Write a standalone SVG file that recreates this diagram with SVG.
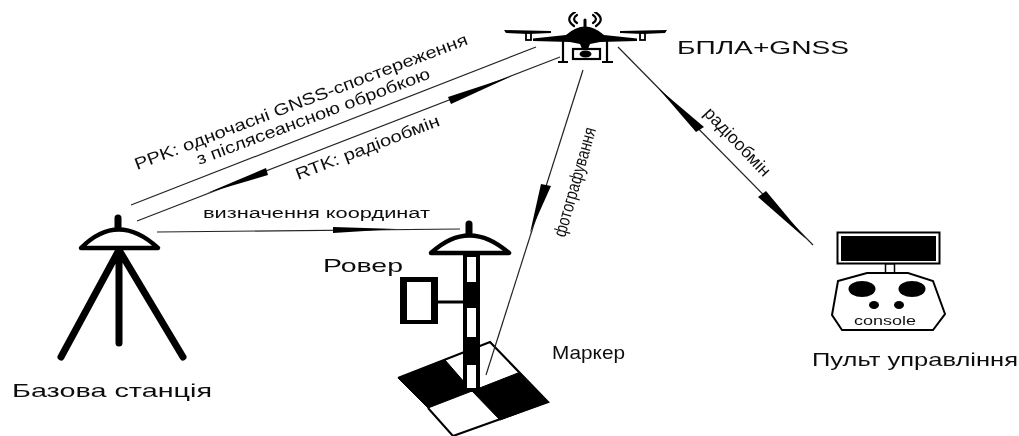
<svg xmlns="http://www.w3.org/2000/svg" width="1019" height="436" viewBox="0 0 1019 436">
<defs><filter id="soft" x="0" y="0" width="100%" height="100%"><feGaussianBlur stdDeviation="0.45"/></filter></defs>
<style>
text{font-family:"Liberation Sans",Arial,sans-serif;fill:#111}
.c{stroke:#222;stroke-width:1.2;fill:none}
.h{fill:#000;stroke:none}
.k{stroke:#000;fill:none;stroke-linecap:round}
.lab{font-size:18.500px}
.sm{font-size:16.500px}
</style>
<rect width="1019" height="436" fill="#fff"/>
<g filter="url(#soft)">
<g id="marker">
<path d="M398,378 L490,342 L548,402 L453,436" fill="#fff" stroke="#000" stroke-width="2.200"/>
<path d="M398,378 L445,360 L472,391 L428,408Z" fill="#000" stroke="#000"/>
<path d="M472,391 L518,373 L548,402 L500,420Z" fill="#000" stroke="#000"/>
<path d="M428,408 L453,436" stroke="#000" stroke-width="2" fill="none"/>
<text class="lab" x="552" y="359" textLength="73" lengthAdjust="spacingAndGlyphs">Маркер</text>
</g>
<g id="base-station">
<path class="k" d="M118,218V232" stroke-width="7"/>
<path d="M81,248 Q118,211 158,248Z" fill="#fff" stroke="#000" stroke-width="4.500" stroke-linejoin="round"/>
<path class="k" d="M119,250L61,357M119,250V343M119,250L183,357" stroke-width="7"/>
<text class="lab" x="12" y="397" textLength="200" lengthAdjust="spacingAndGlyphs">Базова станція</text>
</g>
<g id="rover">
<path class="k" d="M469,224V236" stroke-width="7"/>
<path d="M431,253 Q469,218 509,253Z" fill="#fff" stroke="#000" stroke-width="4.500" stroke-linejoin="round"/>
<rect x="465" y="255" width="13" height="135" fill="#fff" stroke="#000" stroke-width="4"/>
<rect x="464" y="282" width="15" height="26" fill="#000"/>
<rect x="464" y="337" width="15" height="28" fill="#000"/>
<path d="M437,302H464" stroke="#000" stroke-width="3"/>
<path d="M400,277H438V324H400ZM407,282V320H431V282Z" fill="#000" fill-rule="evenodd"/>
<rect x="407" y="282" width="24" height="38" fill="#fff"/>
<text class="lab" x="323" y="272" textLength="80" lengthAdjust="spacingAndGlyphs">Ровер</text>
</g>
<g id="uav">
<path d="M504,30 L551,31 V33 L528,34 L506,33Z" fill="#000"/>
<path d="M620,31 L667,30 L665,33 L643,34 L620,33Z" fill="#000"/>
<rect x="526" y="33" width="5" height="7" fill="#fff" stroke="#000" stroke-width="1.800"/>
<rect x="640" y="33" width="5" height="7" fill="#fff" stroke="#000" stroke-width="1.800"/>
<path d="M533,38.500 L566,35 Q585,18 604,35 L637,38.500 V41 L600,42 L590,44 L588,49 H582 L580,44 L570,42 L533,41Z" fill="#000"/>
<path class="k" d="M585,20V30" stroke-width="3"/>
<g class="k" stroke-width="2.200"><path d="M575,12 Q564,19 574,26M577,15 Q571,19 577,23M595,12 Q606,19 596,26M593,15 Q599,19 593,23"/></g>
<path d="M563,41V62M558,62H568M607,41V62M602,62H613" stroke="#000" stroke-width="2.200" fill="none"/>
<rect x="573" y="49" width="27" height="10" fill="#fff" stroke="#000" stroke-width="2.200"/>
<ellipse cx="585.500" cy="54" rx="6" ry="3.500" fill="#000"/>
<text class="lab" x="677" y="54" textLength="172" lengthAdjust="spacingAndGlyphs">БПЛА+GNSS</text>
</g>
<g id="console">
<rect x="837.500" y="232.500" width="102" height="31" fill="#fff" stroke="#000" stroke-width="2"/>
<rect x="841" y="236" width="95" height="25" fill="#000"/>
<rect x="885.500" y="264" width="9" height="9" fill="#fff" stroke="#000" stroke-width="1.500"/>
<path d="M838,281 L867,273 H908 L933,281 L945,314 L933,330 H842 L832,315Z" fill="#fff" stroke="#000" stroke-width="2"/>
<ellipse cx="862" cy="289" rx="13.500" ry="8" fill="#000"/>
<ellipse cx="912" cy="289" rx="13.500" ry="8" fill="#000"/>
<ellipse cx="874" cy="305" rx="5" ry="4" fill="#000"/>
<ellipse cx="899" cy="305" rx="5" ry="4" fill="#000"/>
<text x="854" y="325" font-size="13" textLength="62" lengthAdjust="spacingAndGlyphs">console</text>
<text class="lab" x="812" y="366" textLength="206" lengthAdjust="spacingAndGlyphs">Пульт управління</text>
</g>
<g id="connectors">
<path class="c" d="M131,205L536,47"/>
<path class="c" d="M137,221L560,57"/>
<path class="h" d="M207,193L266,168L268,175Z"/>
<path class="h" d="M512,76L448,97L451,104Z"/>
<path class="c" d="M157,232L460,229"/>
<path class="h" d="M333,227L397,229L333,233Z"/>
<path class="c" d="M583,70L486,375"/>
<path class="h" d="M541,184L551,186L530,233Z"/>
<path class="c" d="M618,47L813,245"/>
<path class="h" d="M658,88L704,127L696,132Z"/>
<path class="h" d="M766,191L758,197L806,239Z"/>
</g>
<g id="labels">
<text class="sm" transform="translate(137,170) rotate(-20.800)" textLength="355" lengthAdjust="spacingAndGlyphs">PPK: одночасні GNSS-спостереження</text>
<text class="sm" transform="translate(199,165) rotate(-20.500)" textLength="248" lengthAdjust="spacingAndGlyphs">з післясеансною обробкою</text>
<text class="sm" transform="translate(298,180) rotate(-21)" textLength="153" lengthAdjust="spacingAndGlyphs">RTK: радіообмін</text>
<text class="sm" x="203" y="218" style="font-size:15.500px" textLength="227" lengthAdjust="spacingAndGlyphs">визначення координат</text>
<text class="sm" transform="translate(565,238) rotate(-74)" style="font-size:18px" textLength="113" lengthAdjust="spacingAndGlyphs">фотографування</text>
<text class="sm" transform="translate(703,114) rotate(46.500)" style="font-size:17.500px" textLength="88" lengthAdjust="spacingAndGlyphs">радіообмін</text>
</g>
</g>
</svg>
